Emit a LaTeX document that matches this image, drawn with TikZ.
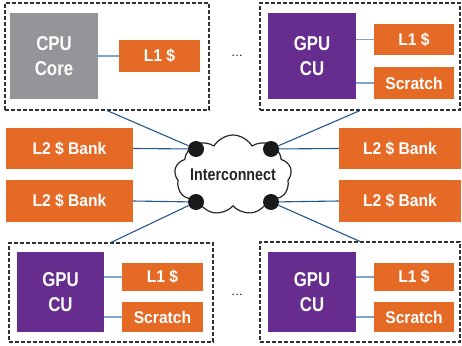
\documentclass[tikz,border=0pt]{standalone}
\usepackage{fontspec}
\setmainfont{Liberation Sans}
\newfontfamily\narrowfont[FakeStretch=0.84]{Liberation Sans}
\newfontfamily\cachefont[FakeStretch=0.92]{Liberation Sans}
\usepackage{tikz}
\usetikzlibrary{arrows.meta,positioning,shapes.geometric,shapes.symbols,calc}

\definecolor{cacheorange}{RGB}{228,106,38}
\definecolor{gpupurple}{RGB}{102,45,142}
\definecolor{cpugray}{RGB}{148,149,153}
\definecolor{linkblue}{RGB}{38,86,140}
\definecolor{locblue}{RGB}{125,165,205}
\definecolor{boxgray}{RGB}{50,50,50}

\begin{document}
\begin{tikzpicture}[x=1pt,y=-1pt,
  cache/.style={rectangle,fill=cacheorange,text=white,inner sep=0pt,
    font=\cachefont\fontsize{17}{19}\selectfont\bfseries},
  core/.style={rectangle,text=white,inner sep=0pt,align=center,
    font=\narrowfont\fontsize{20}{25}\selectfont\bfseries},
  group/.style={rectangle,draw=boxgray,line width=1.1pt,dash pattern=on 4pt off 2pt,
    inner sep=0pt},
  junction/.style={circle,fill=black!90,inner sep=0pt,minimum size=16pt},
  link/.style={draw=linkblue,line width=1.1pt},
  local/.style={draw=locblue,line width=1.5pt}]
\useasboundingbox (0,0) rectangle (462,345);

% Core groups
\node[group,minimum width=204pt,minimum height=107pt] (grpa) at (107,56.5) {};
\node[group,minimum width=200pt,minimum height=107pt] (grpb) at (360,56.5) {};
\node[group,minimum width=204pt,minimum height=99pt] (grpc) at (111,292.5) {};
\node[group,minimum width=200pt,minimum height=100pt] (grpd) at (360,292) {};

% CPU
\node[core,fill=cpugray,minimum width=88pt,minimum height=86pt] (cpu) at (54,56) {CPU\\Core};
\node[cache,minimum width=81pt,minimum height=32pt] (l1a) at (159.5,56) {L1 \$};

% GPU top
\node[core,fill=gpupurple,minimum width=88pt,minimum height=86pt] (gpub) at (312,56) {GPU\\CU};
\node[cache,minimum width=80pt,minimum height=31pt] (l1b) at (414,39.5) {L1 \$};
\node[cache,minimum width=80pt,minimum height=32pt] (scb) at (414,83) {Scratch};

% GPU bottom
\node[core,fill=gpupurple,minimum width=87pt,minimum height=80pt] (gpuc) at (60.5,292) {GPU\\CU};
\node[cache,minimum width=81pt,minimum height=28pt] (l1c) at (162.5,277) {L1 \$};
\node[cache,minimum width=81pt,minimum height=30pt] (scc) at (162.5,317) {Scratch};
\node[core,fill=gpupurple,minimum width=88pt,minimum height=80pt] (gpud) at (312,292) {GPU\\CU};
\node[cache,minimum width=80pt,minimum height=28pt] (l1d) at (414,277) {L1 \$};
\node[cache,minimum width=80pt,minimum height=30pt] (scd) at (414,317) {Scratch};

\node[font=\fontsize{12}{12}\selectfont] (moreb) at (237,56) {\dots};
\node[font=\fontsize{12}{12}\selectfont] (mored) at (237,295) {\dots};

% L2 banks
\node[cache,minimum width=127pt,minimum height=41pt] (l2a) at (69.5,148.5) {L2 \$ Bank};
\node[cache,minimum width=127pt,minimum height=42pt] (l2b) at (69.5,201) {L2 \$ Bank};
\node[cache,minimum width=122pt,minimum height=41pt] (l2c) at (400,148.5) {L2 \$ Bank};
\node[cache,minimum width=122pt,minimum height=42pt] (l2d) at (400,201) {L2 \$ Bank};

% Interconnect
\node[cloud,draw=black!85,fill=white,line width=1.2pt,cloud puffs=9,cloud puff arc=120,
  cloud ignores aspect,inner xsep=-14pt,inner ysep=-4pt,
  minimum width=117pt,minimum height=80pt,text=black!85,
  font=\narrowfont\fontsize{17}{19}\selectfont\bfseries] (net) at (233,175) {Interconnect};
\node[junction] (ja) at (196,149) {};
\node[junction] (jb) at (271,149) {};
\node[junction] (jc) at (196,202) {};
\node[junction] (jd) at (271,202) {};

% Local links
\draw[local] (cpu.east) -- (l1a.west);
\draw[local] (gpub.east |- l1b.west) -- (l1b.west);
\draw[local] (gpub.east |- scb.west) -- (scb.west);
\draw[local] (gpuc.east |- l1c.west) -- (l1c.west);
\draw[local] (gpuc.east |- scc.west) -- (scc.west);
\draw[local] (gpud.east |- l1d.west) -- (l1d.west);
\draw[local] (gpud.east |- scd.west) -- (scd.west);

% Network links
\draw[link] (grpa.south) -- (ja);
\draw[link] (grpb.south) -- (jb);
\draw[link] (grpc.north) -- (jc);
\draw[link] (grpd.north) -- (jd);
\draw[link] (l2a.east) -- (ja);
\draw[link] (l2b.east) -- (jc);
\draw[link] (l2c.west) -- (jb);
\draw[link] (l2d.west) -- (jd);
\end{tikzpicture}
\end{document}
